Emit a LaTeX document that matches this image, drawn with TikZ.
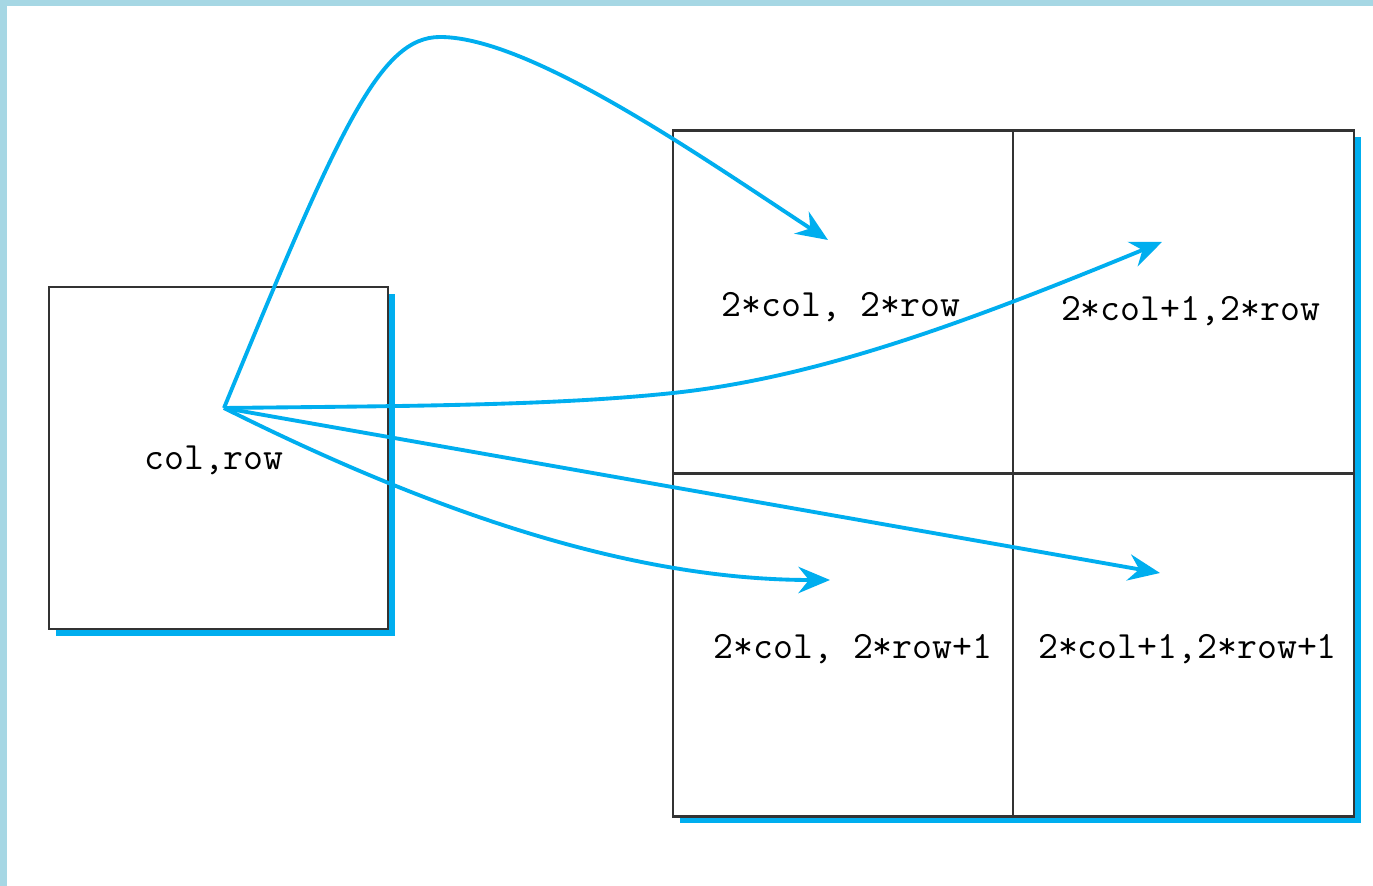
\documentclass[tikz,border=0pt]{standalone}
\usepackage{xcolor}
\definecolor{mapblue}{HTML}{00AEEF}
\definecolor{framecol}{HTML}{A6D7E4}
\definecolor{gridline}{HTML}{333333}
\usetikzlibrary{arrows.meta,positioning,shadows}

\begin{document}
\begin{tikzpicture}[>={Stealth[length=9pt,width=7.5pt,inset=3pt]}, font=\fontsize{11}{13}\ttfamily,
	pixbox/.style={draw=gridline, line width=0.6pt, fill=white, outer sep=0pt, inner sep=0pt,
		drop shadow={shadow xshift=0.07cm, shadow yshift=-0.07cm, fill=mapblue, opacity=1}},
	cell/.style={pixbox, minimum width=3.405cm, minimum height=3.43cm},
	maparrow/.style={mapblue, line width=1.1pt, ->}]

	\useasboundingbox (0,0) rectangle (13.73,8.86);

	% page frame
	\fill[framecol] (0,8.80) rectangle (13.73,8.86);
	\fill[framecol] (0,0) rectangle (0.07,8.86);

	% ================= source pixel =================
	\node[pixbox, minimum width=3.39cm, minimum height=3.42cm] (src) at (2.185,4.28) {};
	\node (srctxt) at ([shift={(-0.045,-0.02)}]src.center) {col,row};
	\coordinate (S) at (2.24,4.78); % sample point

	% ================= 2x2 target block =================
	\node[cell] (tl) at (8.43,5.84) {};
	\node[cell, right=0pt of tl] (tr) {};
	\node[cell, below=0pt of tl] (bl) {};
	\node[cell, right=0pt of bl] (br) {};

	\node (tltxt) at ([shift={(-0.02,-0.05)}]tl.center) {2*col, 2*row};
	\node (trtxt) at ([shift={(0.07,-0.09)}]tr.center) {2*col+1,2*row};
	\node (bltxt) at ([shift={(0.10,-0.04)}]bl.center) {2*col, 2*row+1};
	\node (brtxt) at ([shift={(0.04,-0.04)}]br.center) {2*col+1,2*row+1};

	% arrow ends inside the cells
	\coordinate (tlend) at (8.28,6.46);
	\coordinate (trend) at (11.62,6.44);
	\coordinate (blend) at (8.30,3.06);
	\coordinate (brend) at (11.60,3.13);

	% ================= mapping arrows =================
	\draw[maparrow] (S) .. controls (3.4,7.6) and (3.8,8.49) .. (4.40,8.49)
		.. controls (5.3,8.49) and (7.0,7.3) .. (tlend);
	\draw[maparrow] (S) .. controls (4.0,4.80) and (5.5,4.80) .. (6.73,4.93)
		.. controls (8.2,5.086) and (9.7,5.65) .. (trend);
	\draw[maparrow] (S) .. controls (4.3,3.75) and (6.3,3.06) .. (blend);
	\draw[maparrow] (S) -- (brend);

\end{tikzpicture}
\end{document}
